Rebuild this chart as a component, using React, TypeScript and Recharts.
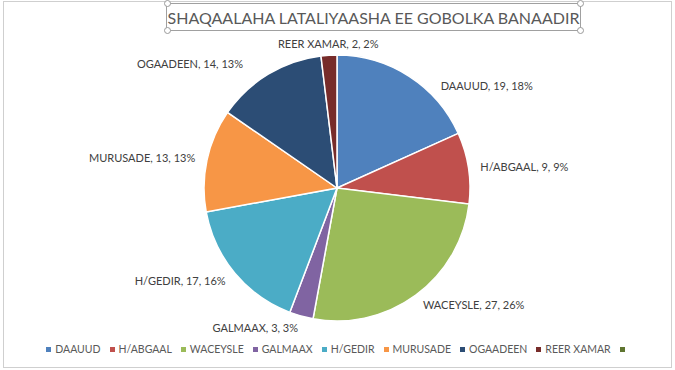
import React from 'react';
import { PieChart, Pie, Cell, Legend } from 'recharts';

const CATEGORIES = ['DAAUUD', 'H/ABGAAL', 'WACEYSLE', 'GALMAAX', 'H/GEDIR', 'MURUSADE', 'OGAADEEN', 'REER XAMAR', ''];
const VALUES = [19, 9, 27, 3, 17, 13, 14, 2, 0];
const COLORS = ['#4F81BD', '#C0504D', '#9BBB59', '#8064A2', '#4BACC6', '#F79646', '#2C4D75', '#772C2A', '#5F7530'];
const TITLE = 'SHAQAALAHA LATALIYAASHA EE GOBOLKA BANAADIR';

const TOTAL = VALUES.reduce((a, b) => a + b, 0);
const pieData = CATEGORIES.map((name, i) => ({ name, value: VALUES[i], color: COLORS[i] })).filter((d) => d.value > 0);

// Excel "best fit" moved a couple of labels away from their default spot
const LABEL_NUDGE: Record<string, [number, number]> = {
  DAAUUD: [25, 19],
  OGAADEEN: [-19, 0],
};

const FONT = 'Lato, "Open Sans", sans-serif';
const RAD = Math.PI / 180;

const renderLabel = (props: any) => {
  const { cx, cy, midAngle, outerRadius, name, value } = props;
  const r = outerRadius + 12;
  let x = cx + r * Math.cos(-midAngle * RAD);
  let y = cy + r * Math.sin(-midAngle * RAD);
  const nudge = LABEL_NUDGE[name];
  if (nudge) {
    x += nudge[0];
    y += nudge[1];
  }
  const dx = x - cx;
  const anchor = Math.abs(dx) < 20 ? 'middle' : dx > 0 ? 'start' : 'end';
  const pct = Math.round((value / TOTAL) * 100);
  return (
    <text x={x} y={y} textAnchor={anchor} dominantBaseline="central" fill="#404040" fontSize={11} fontFamily={FONT}>
      {`${name}, ${value}, ${pct}%`}
    </text>
  );
};

const renderLegend = () => (
  <div style={{ display: 'flex', justifyContent: 'center', alignItems: 'center', fontFamily: FONT, fontSize: 10.5, color: '#595959' }}>
    {CATEGORIES.map((c, i) => (
      <div key={i} style={{ display: 'flex', alignItems: 'center', marginRight: i === CATEGORIES.length - 1 ? 0 : 9 }}>
        <span style={{ display: 'inline-block', width: 5, height: 5, background: COLORS[i], marginRight: 4 }} />
        <span>{c}</span>
      </div>
    ))}
  </div>
);

const Handle = ({ x, y }: { x: number; y: number }) => (
  <div
    style={{
      position: 'absolute',
      left: x - 3,
      top: y - 3,
      width: 5,
      height: 5,
      borderRadius: '50%',
      border: '1px solid #9a9a9a',
      background: '#fff',
    }}
  />
);

export default function App() {
  return (
    <div style={{ position: 'absolute', left: 0, top: 0, width: 675, height: 370, background: '#fff', overflow: 'hidden' }}>
      <div style={{ position: 'absolute', left: 3, top: 1, width: 667, height: 365, border: '1px solid #cfcfcf' }} />
      <PieChart
        width={675}
        height={370}
        margin={{ top: 0, right: 0, bottom: 0, left: 0 }}
        style={{ position: 'absolute', left: 0, top: 0 }}
      >
        <Pie
          data={pieData}
          dataKey="value"
          nameKey="name"
          cx={337}
          cy={188}
          outerRadius={133}
          startAngle={90}
          endAngle={-270}
          stroke="#ffffff"
          strokeWidth={1.5}
          label={renderLabel}
          labelLine={false}
          isAnimationActive={false}
        >
          {pieData.map((d, i) => (
            <Cell key={i} fill={d.color} />
          ))}
        </Pie>
        <Legend content={renderLegend} wrapperStyle={{ position: 'absolute', left: 0, top: 343, width: 675 }} />
      </PieChart>
      <div
        style={{
          position: 'absolute',
          left: 166,
          top: 3,
          width: 413,
          height: 26,
          border: '1px solid #a0a0a0',
          display: 'flex',
          alignItems: 'center',
          justifyContent: 'center',
          fontFamily: FONT,
          fontSize: 16,
          color: '#595959',
          whiteSpace: 'nowrap',
        }}
      >
        {TITLE}
      </div>
      <Handle x={167} y={3} />
      <Handle x={580} y={3} />
      <Handle x={167} y={30} />
      <Handle x={580} y={30} />
    </div>
  );
}
